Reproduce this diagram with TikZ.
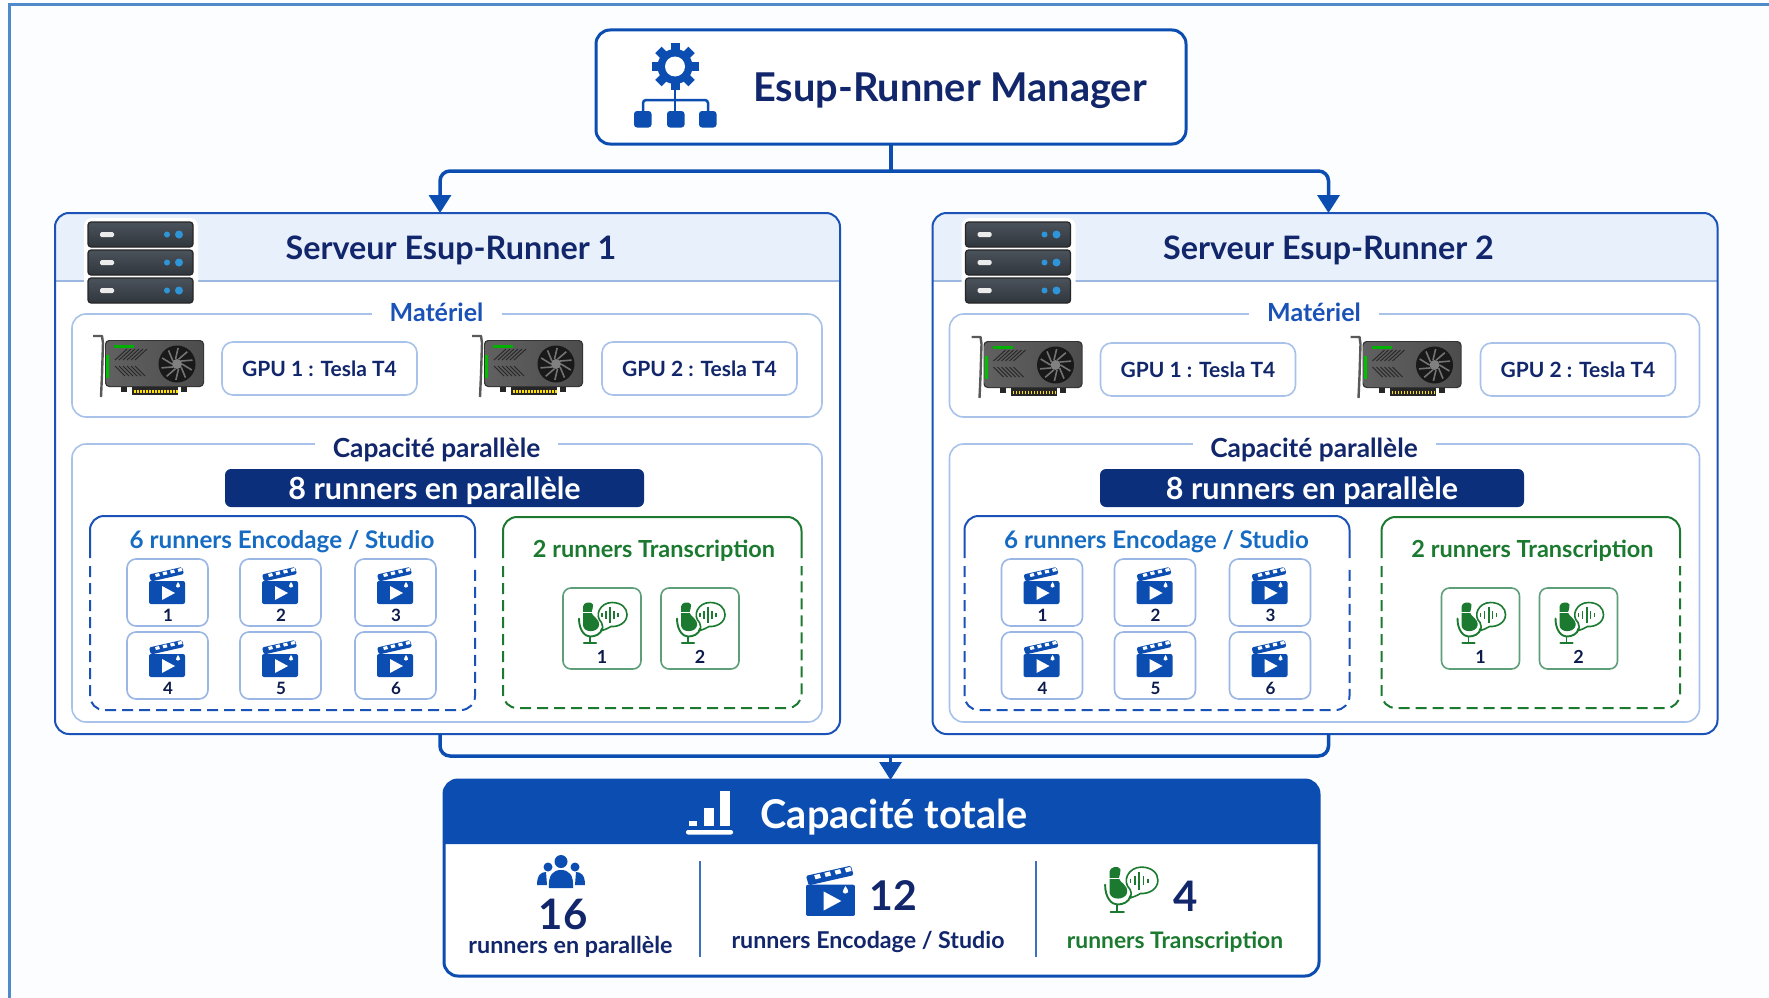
\documentclass[tikz,border=0pt]{standalone}
\usepackage{fontspec}
\setmainfont{Lato}
\usetikzlibrary{arrows.meta,calc}
\definecolor{bgc}{HTML}{FCFDFE}
\definecolor{frm}{HTML}{4F8BCB}
\definecolor{blu}{HTML}{0B4DB0}
\definecolor{navy}{HTML}{12266B}
\definecolor{ban}{HTML}{0C2F7C}
\definecolor{lin}{HTML}{A9C2EA}
\definecolor{hdr}{HTML}{E7F0FB}
\definecolor{hln}{HTML}{9DB8E0}
\definecolor{mid}{HTML}{1A52B8}
\definecolor{grn}{HTML}{1B7A30}
\definecolor{grl}{HTML}{5E9E78}
\definecolor{slabt}{HTML}{4A525B}
\definecolor{slabb}{HTML}{30363C}
\newcommand\fs[1]{\fontsize{#1}{#1}\selectfont\bfseries}
\newcommand\rb[6]{\node[#1,minimum width={((#4)-(#2))*1pt},minimum height={((#5)-(#3))*1pt}] (#6) at ({((#2)+(#4))/2},{((#3)+(#5))/2}) {};}
\tikzset{
 x=1pt,y=-1pt,
 plain/.style={inner sep=0pt,outer sep=0pt,rectangle},
 mgrbox/.style={plain,draw=blu,line width=3pt,rounded corners=14pt,fill=white},
 srvbox/.style={plain,draw=mid,line width=2pt,rounded corners=14pt},
 subbox/.style={plain,draw=lin,line width=1.6pt,rounded corners=14pt,fill=white},
 gpubox/.style={plain,draw=lin,line width=1.6pt,rounded corners=11pt,fill=white},
 banbox/.style={plain,fill=ban,rounded corners=6pt},
 cellbox/.style={plain,draw=lin!90!blu,line width=1.6pt,rounded corners=9pt,fill=white},
 miccell/.style={plain,draw=grl,line width=1.6pt,rounded corners=8pt,fill=white},
 conn/.style={draw=blu,line width=3.5pt,rounded corners=10pt},
 tipped/.style={-{Triangle[length=18pt,width=22pt]}},
 lbl/.style={inner sep=0pt,outer sep=0pt},
 gaplbl/.style={lbl,fill=white,inner ysep=5pt},
 clapicon/.pic={
  \fill[blu,rounded corners=2pt] (0,13) rectangle (36,36);
  \fill[blu,rounded corners=1.5pt] (0,6.5) -- (33,-1) -- (35,6) -- (2,13.5) -- cycle;
  \foreach \k in {0,1,2,3}{\fill[white] ({6+\k*7.5},{6-\k*1.7}) -- ++(4,-1) -- ++(1,3) -- ++(-4,1) -- cycle;}
  \fill[white] (13,18) -- (26,25) -- (13,32) -- cycle;
  \fill[white] (29,14) .. controls (30,16) and (31.5,17) .. (31,18.5) .. controls (30,20) and (27.5,20) .. (27,18.5) .. controls (27,17) and (28,16) .. (29,14) -- cycle;
 },
 micicon/.pic={
  \fill[grn] (5,5) .. controls (5,1) and (13,-1) .. (15,3) .. controls (16,6) and (13.5,8) .. (13.5,11) .. controls (14,15) and (22,17) .. (21,24) .. controls (20,31) and (6,32) .. (5,24) -- cycle;
  \draw[white,line width=1.2pt] (3,11) -- (15,11);
  \draw[grn,line width=1.9pt,line cap=round] (1,17) .. controls (1,29) and (7,35) .. (12,35) .. controls (17,35) and (23,33) .. (24,27);
  \draw[grn,line width=1.9pt] (12,35) -- (12,41);
  \draw[grn,line width=2.2pt,line cap=round] (6,41.5) -- (18,41.5);
  \draw[grn,line width=1.6pt,fill=white] (23.5,21) .. controls (16,14) and (22,1) .. (34,1) .. controls (44,1) and (49,7) .. (49,13) .. controls (49,21) and (41,25.5) .. (33,25) .. controls (30,27) and (27,28) .. (24,29) .. controls (25,27) and (25,24) .. (23.5,21) -- cycle;
  \draw[grn,line width=1.6pt] (24,11.5) -- (24,15.5) (28,9.5) -- (28,17.5) (36,9.5) -- (36,17.5) (40,11.5) -- (40,15.5);
  \draw[grn,line width=2pt] (32,5.5) -- (32,21.5);
 },
 slab/.pic={
  \path[top color=slabt,bottom color=slabb,rounded corners=3pt] (0,0) rectangle (105,25);
  \draw[black!85,line width=1.2pt,rounded corners=3pt] (0,0) rectangle (105,25);
  \fill[white!92!black,rounded corners=1.5pt] (12,10) rectangle (26,15);
  \fill[cyan!70!blue!85] (79,12.5) circle (3pt);
  \fill[cyan!70!blue!85] (91,12.5) circle (4pt);
 },
 gpuicon/.pic={
  \draw[black!65,line width=2.4pt,line join=round] (0,1) -- (9,1) -- (10,8) -- (9,40) -- (8,62);
  \fill[black!80,rounded corners=4pt] (12,5) rectangle (111,52);
  \path[left color=black!62,right color=black!70,rounded corners=4pt] (13,6) rectangle (110,51);
  \fill[green!70!black] (21,10) rectangle (41,12.5);
  \fill[green!75!black] (13,20) rectangle (16,43);
  \foreach \k in {0,1,2,3,4,5}{
   \draw[black!85,line width=.9pt] ({22+\k*4},25) -- ({34+\k*4},14);
   \draw[black!85,line width=.9pt] ({22+\k*4},31) -- ({32+\k*4},41);}
  \fill[black!90] (84,29) circle (18.5pt);
  \foreach \a in {0,36,...,324}{\draw[black!55,line width=1.6pt] ($(84,29)+(\a:5)$) -- ($(84,29)+(\a+22:16)$);}
  \fill[black!50] (84,29) circle (5pt);
  \fill[black!85] (28,52) rectangle (34,57);
  \fill[black!85] (88,52) rectangle (94,57);
  \fill[black!85] (39,52) rectangle (85,60);
  \foreach \k in {0,...,14}{\fill[yellow!80!orange] ({41+\k*3},55) rectangle ++(1.8,3);}
 },
}
\begin{document}
\begin{tikzpicture}
\path[use as bounding box,fill=bgc] (0,0) rectangle (1769,998);
\draw[frm,line width=3pt] (9,998) -- (9,5) -- (1769,5);

% manager
\rb{mgrbox}{596}{30}{1186}{144}{mgr}
\node[lbl,text=navy] (mgrt) at (950,91) {\fs{39.7}Esup-Runner Manager};
\fill[blu] (675,66.5) circle (17.5pt);
\foreach \a in {0,45,...,315}{\fill[blu,shift={(675,66.5)},rotate=\a] (-4.5,-23.5) rectangle (4.5,-12);}
\fill[white] (675,66.5) circle (10pt);
\draw[blu,line width=2.5pt] (675,88) -- (675,111);
\draw[blu,line width=2.5pt,rounded corners=3pt] (643,112) -- (643,100) -- (708,100) -- (708,112);
\foreach \xa in {634,667,699}{\fill[blu,rounded corners=3pt] (\xa,111) rectangle ++(17.5,16.5);}

% servers
\foreach \s/\dx/\bw/\ex/\tx/\gy in {1/0/419/0/0/0,2/877.5/424/-3/1/1}{
\begin{scope}[shift={(\dx,0)}]
 \fill[white,rounded corners=14pt] (55,213) rectangle (840,734);
 \fill[hdr] (55,281) [rounded corners=14pt] -- (55,213) -- (840,213) [sharp corners] -- (840,281) -- cycle;
 \draw[hln,line width=1.5pt] (55,281) -- (840,281);
 \fill[white,rounded corners=8pt] (84,218) rectangle (198,308);
 \rb{srvbox}{55}{213}{840}{734}{srv\s}
 \foreach \yy in {222,250,278}{\pic at (88,\yy) {slab};}
 \node[lbl,text=navy] (srvt\s) at (451,250) {\fs{32.3}Serveur Esup-Runner \s};
 % hardware
 \rb{subbox}{72}{314}{822}{417}{hw\s}
 \node[gaplbl,text=mid,minimum width=130pt] (hwt\s) at (436.5,312) {\fs{25}Matériel};
 \foreach \g/\gx/\hx in {1/0/1,2/379/381}{
  \pic at ({93+\gx+\gy},{335+\gy}) {gpuicon};
  \rb{gpubox}{221+\hx+\gy}{342+\gy}{416+\hx+\gy}{395+\gy}{gpu\s-\g}
  \node[lbl,text=navy] (gput\s-\g) at (gpu\s-\g) {\fs{21}GPU \g{} : Tesla T4};
 }
 % capacity
 \rb{subbox}{72}{444}{822}{722}{cap\s}
 \node[gaplbl,text=navy,minimum width=243pt] (capt\s) at (436.5,449.5) {\fs{26.3}Capacité parallèle};
 \node[banbox,minimum width=\bw pt,minimum height=38pt] (ban\s) at (434.5,488) {};
 \node[lbl,text=white] (bant\s) at ($(ban\s)+(0,2.5)$) {\fs{30.5}8 runners en parallèle};
 % encoding group
 \begin{scope}[shift={(\ex,0)}]
 \draw[mid,line width=2pt,rounded corners=14pt] (90,558) -- (90,516) -- (475,516) -- (475,558);
 \draw[mid,line width=2pt,rounded corners=14pt,dash pattern=on 11pt off 6pt] (90,566) -- (90,710) -- (475,710) -- (475,566);
 \node[lbl,text=mid!85!cyan] (enct\s) at (282,542) {\fs{24.2}6 runners Encodage / Studio};
 \foreach \n/\cx/\cy in {1/127/559,2/240/559,3/355/559,4/127/632,5/240/632,6/355/632}{
  \rb{cellbox}{\cx}{\cy}{\cx+81}{\cy+67}{cell\s-\n}
  \pic at ({\cx+22},{\cy+9}) {clapicon};
  \node[lbl,text=navy!70!black] (cellt\s-\n) at ({\cx+41},{\cy+56}) {\fs{17}\n};
 }
 \end{scope}
 % transcription group
 \begin{scope}[shift={(\tx,0)}]
 \draw[grn,line width=2pt,rounded corners=14pt] (503,558) -- (503,517) -- (801.5,517) -- (801.5,558);
 \draw[grn,line width=2pt,rounded corners=14pt,dash pattern=on 11pt off 6pt] (503,566) -- (503,708) -- (801.5,708) -- (801.5,566);
 \node[lbl,text=grn] (trat\s) at (654,551) {\fs{23.5}2 runners Transcription};
 \foreach \n/\cx in {1/563,2/661}{
  \rb{miccell}{\cx}{588}{\cx+78}{669}{mic\s-\n}
  \pic at ({\cx+15},{601.5}) {micicon};
  \node[lbl,text=navy!70!black] (mict\s-\n) at ({\cx+39},657) {\fs{18}\n};
 }
 \end{scope}
\end{scope}
}

% total
\rb{plain,fill=white,rounded corners=14pt}{444}{780}{1319}{976}{tot0}
\fill[blu] (444,844) [rounded corners=14pt] -- (444,780) -- (1319,780) [sharp corners] -- (1319,844) -- cycle;
\rb{plain,draw=blu,line width=3pt,rounded corners=14pt}{444}{780}{1319}{976}{tot}
\node[lbl,text=white] (tott) at (894,817) {\fs{39.7}Capacité totale};
\fill[white] (689,821) rectangle (697,826);
\fill[white] (704,808) rectangle (714,826);
\fill[white] (720,791) rectangle (730,826);
\fill[white,rounded corners=2pt] (686,830) rectangle (733,834.5);
\draw[blu!80!white,line width=1.5pt] (700,861) -- (700,957);
\draw[blu!80!white,line width=1.5pt] (1036,861) -- (1036,957);
% people
\fill[blu] (561,861.5) circle (6.5pt);
\fill[blu] (548,867) circle (4.5pt);
\fill[blu] (575,867) circle (4.5pt);
\fill[blu] (537,885) .. controls (537,875) and (541,872) .. (546,872) -- (547,885) -- cycle;
\fill[blu] (585,885) .. controls (585,875) and (581,872) .. (576,872) -- (575,885) -- cycle;
\fill[blu] (549,888) .. controls (548,875) and (553,870) .. (561,870) .. controls (569,870) and (574,875) .. (573,888) -- cycle;
\node[lbl,text=navy] (tot16) at (563,914) {\fs{42}16};
\node[lbl,text=navy] (tot16l) at (570.5,947) {\fs{23.3}runners en parallèle};
\pic[scale=1.36] at (806,867) {clapicon};
\node[lbl,text=navy] (tot12) at (893,896) {\fs{41}12};
\node[lbl,text=navy] (tot12l) at (868,942) {\fs{23.2}runners Encodage / Studio};
\pic[scale=1.1] at (1104,866) {micicon};
\node[lbl,text=navy] (tot4) at (1186,896) {\fs{42}4};
\node[lbl,text=grn] (tot4l) at (1175,942) {\fs{22.8}runners Transcription};

% connectors
\coordinate (busa) at ($(mgr.south)+(0,27)$);
\coordinate (busb) at ($(srv1.south)+(-7.5,22)$);
\draw[conn] (mgr.south) -- (busa);
\draw[conn,tipped] (busa) -| ($(srv1.north)+(-7.5,0)$);
\draw[conn,tipped] (busa) -| ($(srv2.north)+(3.5,0)$);
\draw[conn] ($(srv1.south)+(-7.5,0)$) -- (busb) -| ($(srv2.south)+(3.5,0)$);
\draw[draw=blu,line width=3pt,tipped] ($(tot.north)+(9,-25)$) -- ($(tot.north)+(9,0)$);
\end{tikzpicture}
\end{document}
